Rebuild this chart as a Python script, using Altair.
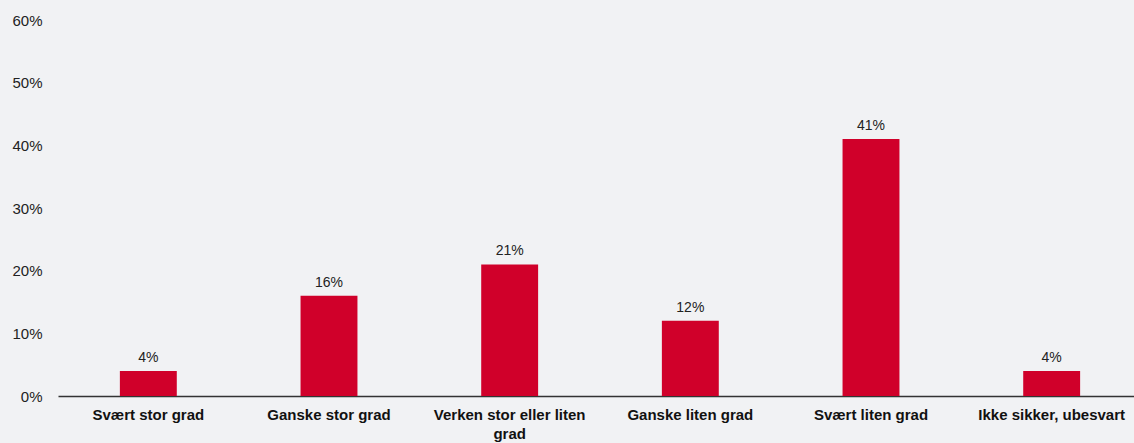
import altair as alt
import pandas as pd

categories = ["Svært stor grad", "Ganske stor grad", "Verken stor eller liten grad",
              "Ganske liten grad", "Svært liten grad", "Ikke sikker, ubesvart"]
values = [4, 16, 21, 12, 41, 4]

df = pd.DataFrame({"cat": categories, "val": [v / 100 for v in values]})

FONT = "Liberation Sans"
RED = "#d0002a"
BG = "#f1f2f4"

# page styling: full-bleed grey background like the reference
PAGE_TEMPLATE = """<!DOCTYPE html>
<html>
<head>
  <meta charset="utf-8">
  <style>
    html, body { margin: 0; padding: 0; background: BGCOLOR; overflow: hidden; width: 1134px; height: 443px; }
    #{{ output_div }} { width: 1134px; height: 443px; overflow: hidden; }
    #{{ output_div }}.vega-embed { width: 1134px; display: flex; }
    #{{ output_div }}.vega-embed details,
    #{{ output_div }}.vega-embed details summary { position: relative; }
  </style>
  <script type="text/javascript" src="{{ base_url }}/vega@{{ vega_version }}"></script>
  <script type="text/javascript" src="{{ base_url }}/vega-lite@{{ vegalite_version }}"></script>
  <script type="text/javascript" src="{{ base_url }}/vega-embed@{{ vegaembed_version }}"></script>
</head>
<body>
  <div id="{{ output_div }}"></div>
  <script type="text/javascript">
    (function(vegaEmbed) {
      var spec = {{ spec }};
      var embedOpt = {{ embed_options }};
      function showError(el, error){
        el.innerHTML = ('<div style="color:red;"><p>JavaScript Error: ' + error.message + '</p></div>');
        throw error;
      }
      const el = document.getElementById('{{ output_div }}');
      vegaEmbed("#{{ output_div }}", spec, embedOpt).catch(error => showError(el, error));
    })(vegaEmbed);
  </script>
</body>
</html>
""".replace("BGCOLOR", BG)

try:
    import jinja2
    from altair.utils import html as _ah
    _ah.TEMPLATES["standard"] = jinja2.Template(PAGE_TEMPLATE)
    MARGIN = 0
except Exception:
    MARGIN = 8

x = alt.X("cat:N", sort=categories, title=None,
          scale=alt.Scale(paddingInner=0.685, paddingOuter=0.3425, range=[0, 1084]),
          axis=alt.Axis(labelAngle=0, labelFont=FONT, labelFontSize=15, labelFontWeight="bold",
                        labelColor="#111111", ticks=False, domainColor="#333333", domainWidth=1.5,
                        labelPadding=11, labelLimit=300, labelLineHeight=19,
                        labelExpr="datum.label == 'Verken stor eller liten grad' ? ['Verken stor eller liten', 'grad'] : datum.label"))
y = alt.Y("val:Q", title=None,
          scale=alt.Scale(domain=[0, 0.6]),
          axis=alt.Axis(format=".0%", values=[0, 0.1, 0.2, 0.3, 0.4, 0.5, 0.6], grid=False, domain=False,
                        ticks=False, labelFont=FONT, labelFontSize=15, labelColor="#222222",
                        labelPadding=16))

bars = alt.Chart(df).mark_bar(color=RED).encode(x=x, y=y)
text = alt.Chart(df).mark_text(dy=-13, font=FONT, fontSize=14, color="#222222").encode(
    x=alt.X("cat:N", sort=categories), y="val:Q", text=alt.Text("val:Q", format=".0%"))

chart = (bars + text).properties(
    width=1076 - MARGIN, height=376 - MARGIN // 2, background=BG,
    autosize=alt.AutoSizeParams(type="none"),
    padding={"left": 58 - MARGIN, "top": 20 - MARGIN, "right": 0, "bottom": 47 - MARGIN}
).configure_view(stroke=None)

chart.save("out.html", embed_options={"renderer": "svg", "actions": False})
